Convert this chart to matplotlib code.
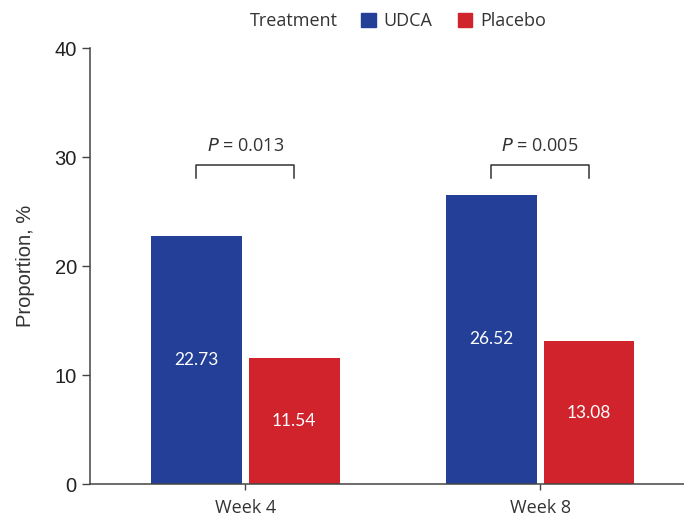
import matplotlib.pyplot as plt
import matplotlib.patches as mpatches
import numpy as np

# data
weeks = ['Week 4', 'Week 8']
udca = [22.73, 26.52]
placebo = [11.54, 13.08]
p_values = ['0.013', '0.005']

blue = '#233f98'
red = '#d0232b'
txt = '#333333'

fig = plt.figure(figsize=(6.84, 5.17), dpi=100)
ax = fig.add_axes([0.1316, 0.0638, 0.8684, 0.8433])

x = np.arange(len(weeks))
w = 0.308
off = 0.166
b1 = ax.bar(x - off, udca, w, color=blue)
b2 = ax.bar(x + off, placebo, w, color=red)

# value labels in the middle of each bar
for bars, vals in ((b1, udca), (b2, placebo)):
    for rect, v in zip(bars, vals):
        ax.text(rect.get_x() + rect.get_width() / 2, v / 2, f'{v:.2f}',
                ha='center', va='center', color='white', fontsize=12.5,
                family='Lato')

# significance brackets
for i, p in enumerate(p_values):
    x0, x1 = x[i] - off, x[i] + off
    ax.plot([x0, x0, x1, x1], [28.1, 29.3, 29.3, 28.1], color='#333333', lw=1.1)
    ax.text(x[i], 31.0, r'$\it{P}$' + f' = {p}', ha='center', va='center',
            fontsize=13, color=txt, family='Open Sans')

ax.set_xlim(-0.527, 1.488)
ax.set_ylim(0, 40)
ax.set_yticks([0, 10, 20, 30, 40])
ax.set_xticks(x)
ax.set_xticklabels(weeks, fontsize=13, color=txt, family='Open Sans')
ax.tick_params(axis='y', labelsize=14.5, colors='#444444', labelcolor='#222222',
               length=6, width=1)
for lab in ax.get_yticklabels():
    lab.set_family('Liberation Sans')
ax.tick_params(axis='x', length=4, width=1, colors='#444444', labelcolor=txt, pad=7)
ax.set_ylabel('Proportion, %', fontsize=14.5, color=txt, family='Liberation Sans',
              labelpad=14)

for s in ('top', 'right'):
    ax.spines[s].set_visible(False)
for s in ('left', 'bottom'):
    ax.spines[s].set_color('#444444')
    ax.spines[s].set_linewidth(1.1)

# legend across the top
fig.text(250 / 684, 1 - 21 / 517, 'Treatment', ha='left', va='center',
         fontsize=13, color=txt, family='Open Sans')
handles = [mpatches.Patch(color=blue, label='UDCA'),
           mpatches.Patch(color=red, label='Placebo')]
leg = fig.legend(handles=handles, loc='center left',
                 bbox_to_anchor=(345 / 684, 1 - 21 / 517), ncol=2, frameon=False,
                 handlelength=0.8, handleheight=0.8, handletextpad=0.45,
                 columnspacing=1.4, prop={'family': 'Open Sans', 'size': 13})
for t in leg.get_texts():
    t.set_color(txt)

fig.savefig('out.png', dpi=100)
